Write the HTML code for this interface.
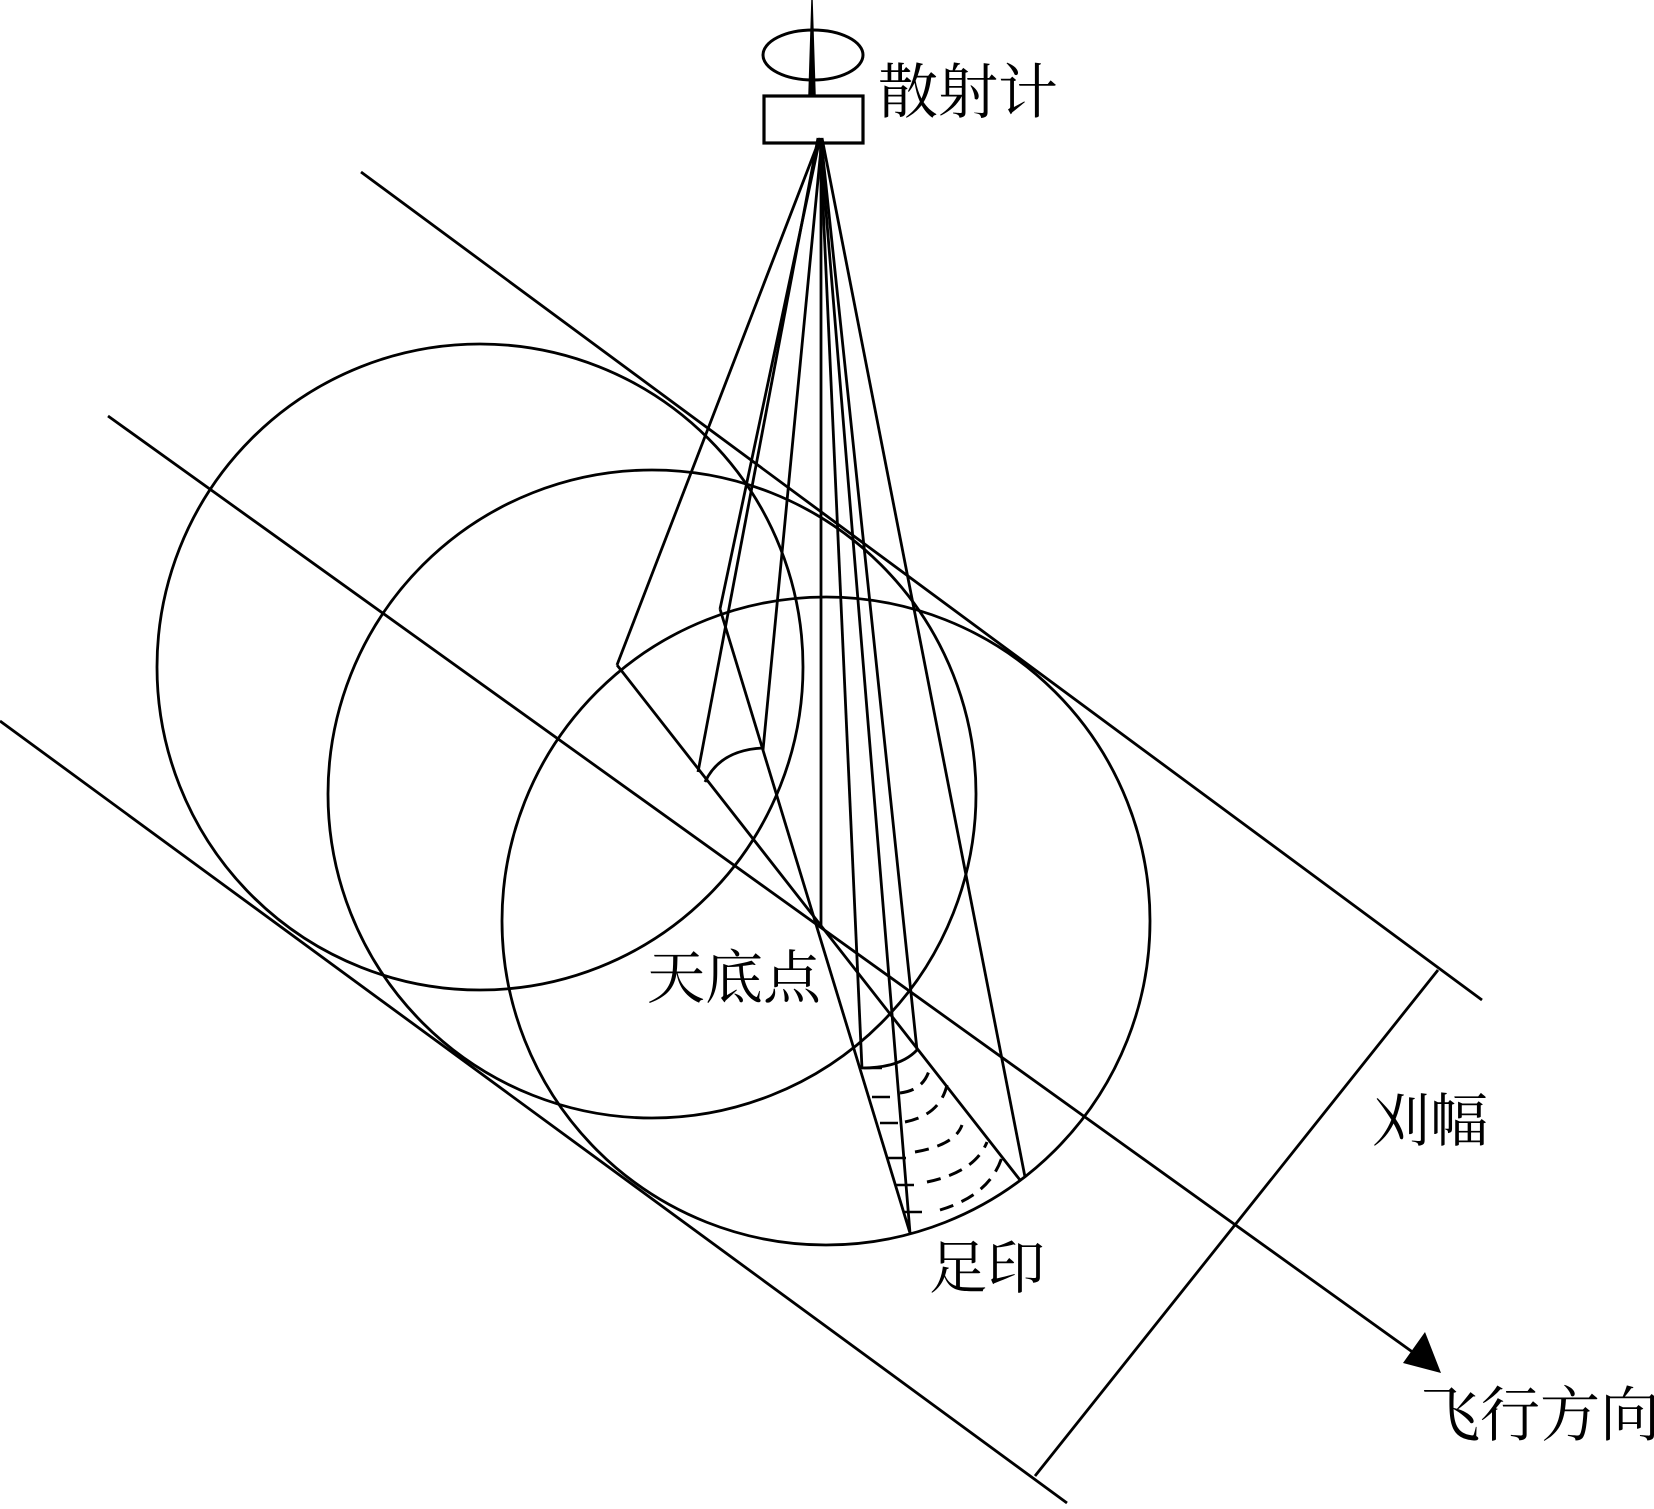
<!DOCTYPE html>
<html><head><meta charset="utf-8"><style>
html,body{margin:0;padding:0;background:#fff;}
svg{display:block;}
text{font-family:"Liberation Serif","Noto Serif CJK SC",serif;fill:#000;}
</style></head><body>
<svg width="1654" height="1509" viewBox="0 0 1654 1509" xmlns="http://www.w3.org/2000/svg">
<g fill="none" stroke="#000" stroke-width="2.8">
<path d="M812,0 L815,95 L809,95 Z" fill="#000" stroke-width="1.5"/>
<ellipse cx="813" cy="55" rx="50" ry="25" stroke-width="3"/>
<rect x="764" y="96" width="99" height="47" stroke-width="3.2"/>
<line x1="361" y1="172" x2="1482" y2="1000"/>
<line x1="108" y1="416" x2="1425" y2="1361"/>
<line x1="0" y1="721" x2="1067" y2="1503"/>
<line x1="1438" y1="970" x2="1035" y2="1476"/>
<polygon points="1441,1373 1403,1363 1425,1332" fill="#000" stroke="none"/>
<circle cx="480" cy="667" r="323"/>
<circle cx="652" cy="794" r="324"/>
<circle cx="826" cy="921" r="324"/>
<line x1="820" y1="138" x2="617" y2="665"/>
<line x1="617" y1="665" x2="1020" y2="1180"/>
<line x1="820" y1="138" x2="720" y2="609"/>
<line x1="720" y1="609" x2="910" y2="1233"/>
<line x1="818" y1="138" x2="698" y2="772"/>
<line x1="822" y1="138" x2="763" y2="750"/>
<path d="M705,782 Q720,750 763,748"/>
<line x1="821" y1="138" x2="821" y2="928"/>
<line x1="820" y1="138" x2="862" y2="1069"/>
<line x1="820" y1="138" x2="910" y2="1233"/>
<line x1="821" y1="138" x2="917" y2="1050"/>
<line x1="822" y1="138" x2="1025" y2="1177"/>
<path d="M862,1068 Q900,1068 917,1050"/>
<g stroke-dasharray="14,9" stroke-width="3">
<path d="M900,1093 Q925,1090 930,1067"/>
<path d="M905,1122 Q940,1115 947,1085"/>
<path d="M915,1152 Q955,1145 962,1125"/>
<path d="M927,1182 Q975,1172 987,1142"/>
<path d="M940,1210 Q990,1195 1002,1157"/>
</g>
<g stroke-width="2.6">
<line x1="864" y1="1068" x2="882" y2="1068"/>
<line x1="872" y1="1097" x2="890" y2="1097"/>
<line x1="880" y1="1123" x2="898" y2="1123"/>
<line x1="888" y1="1158" x2="906" y2="1158"/>
<line x1="896" y1="1185" x2="914" y2="1185"/>
<line x1="904" y1="1212" x2="922" y2="1212"/>
</g>
</g>
<text x="878" y="113" font-size="60">散射计</text>
<text x="647" y="998" font-size="58">天底点</text>
<text x="929" y="1288" font-size="58">足印</text>
<text x="1372" y="1141" font-size="58">刈幅</text>
<text x="1420" y="1436" font-size="60">飞行方向</text>
</svg>
</body></html>
